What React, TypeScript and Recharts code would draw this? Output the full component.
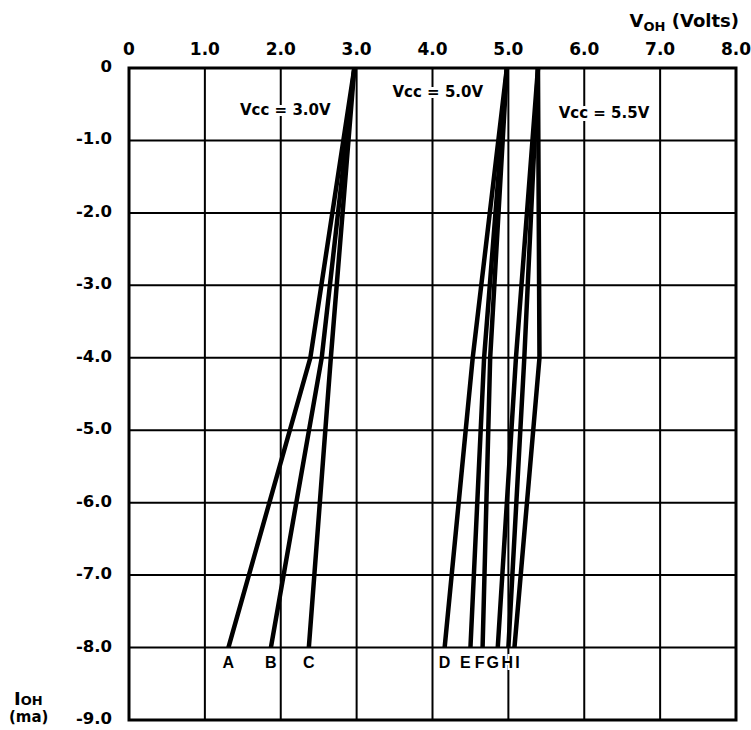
import { LineChart, Line, XAxis, YAxis, CartesianGrid, ReferenceArea, ReferenceDot } from 'recharts'

// output current steps (mA) at which each curve was read
const currentSteps = [0, -4.0, -8.0]

// V_OH (volts) read at each current step, one array per curve
const voltsA = [2.97, 2.39, 1.31]
const voltsB = [2.97, 2.54, 1.87]
const voltsC = [2.97, 2.66, 2.37]
const voltsD = [4.98, 4.53, 4.16]
const voltsE = [4.98, 4.68, 4.5]
const voltsF = [4.98, 4.76, 4.66]
const voltsG = [5.39, 5.1, 4.86]
const voltsH = [5.39, 5.21, 5.0]
const voltsI = [5.39, 5.41, 5.08]

const curveLetters = ['A', 'B', 'C', 'D', 'E', 'F', 'G', 'H', 'I']
const curveVolts = [voltsA, voltsB, voltsC, voltsD, voltsE, voltsF, voltsG, voltsH, voltsI]

const voltTicks = [0, 1, 2, 3, 4, 5, 6, 7, 8]
const currentTicks = [0, -1, -2, -3, -4, -5, -6, -7, -8, -9]

const vccNames = ['Vcc = 3.0V', 'Vcc = 5.0V', 'Vcc = 5.5V']

// where the supply labels sit, in chart units
const vccSpots = [
  { v: 2.06, i: -0.58 },
  { v: 4.07, i: -0.33 },
  { v: 6.26, i: -0.62 },
]

// small horizontal nudges for the crowded letters at the bottom
const letterNudge: Record<string, number> = { E: -5, F: -3, G: -5, H: -1, I: 3 }

const curves = curveLetters.map((letter, k) => ({
  letter,
  points: currentSteps.map((ioh, j) => ({ voh: curveVolts[k][j], ioh })),
}))

const FONT = '"DejaVu Sans", sans-serif'

const fmt = (v: number) => (v === 0 ? '0' : v.toFixed(1))

function VoltTick({ x, payload }: any) {
  return (
    <text x={x} y={55} textAnchor="middle" fontFamily={FONT} fontWeight="bold" fontSize={17} fill="#000">
      {fmt(payload.value)}
    </text>
  )
}

function CurrentTick({ y, payload }: any) {
  return (
    <text x={112} y={y + 4} textAnchor="end" fontFamily={FONT} fontWeight="bold" fontSize={16.5} fill="#000">
      {fmt(payload.value)}
    </text>
  )
}

export default function App() {
  return (
    <div style={{ position: 'absolute', left: 0, top: 0, width: 751, height: 730, background: '#fff' }}>
      <LineChart width={751} height={730} margin={{ top: 0, right: 15, bottom: 10, left: 0 }}>
        <CartesianGrid stroke="#000" strokeWidth={2} />
        <XAxis
          type="number"
          dataKey="voh"
          orientation="top"
          domain={[0, 8]}
          ticks={voltTicks}
          height={68}
          axisLine={false}
          tickLine={false}
          tick={<VoltTick />}
        />
        <YAxis
          type="number"
          domain={[-9, 0]}
          ticks={currentTicks}
          width={129}
          axisLine={false}
          tickLine={false}
          tick={<CurrentTick />}
        />
        <ReferenceArea x1={0} x2={8} y1={-9} y2={0} fill="none" fillOpacity={0} stroke="#000" strokeWidth={3} />
        {vccNames.map((name, k) => (
          <ReferenceDot
            key={name}
            x={vccSpots[k].v}
            y={vccSpots[k].i}
            r={0}
            shape={(p: any) => (
              <text
                x={p.cx}
                y={p.cy + 5}
                textAnchor="middle"
                fontFamily={FONT}
                fontWeight="bold"
                fontSize={15}
                fill="#000"
                stroke="#fff"
                strokeWidth={6}
                paintOrder="stroke"
              >
                {name}
              </text>
            )}
          />
        ))}
        {curves.map((c) => (
          <Line
            key={c.letter}
            data={c.points}
            dataKey="ioh"
            type="linear"
            stroke="#000"
            strokeWidth={4.5}
            dot={false}
            isAnimationActive={false}
            label={(p: any) =>
              p.index === c.points.length - 1 ? (
                <text
                  key={c.letter}
                  x={p.x + (letterNudge[c.letter] ?? 0)}
                  y={p.y + 20}
                  textAnchor="middle"
                  fontFamily='"Liberation Sans", sans-serif'
                  fontWeight="bold"
                  fontSize={16}
                  fill="#000"
                  stroke="#fff"
                  strokeWidth={4}
                  paintOrder="stroke"
                >
                  {c.letter}
                </text>
              ) : (
                <g key={c.letter + p.index} />
              )
            }
          />
        ))}
      </LineChart>
      <div
        style={{
          position: 'absolute',
          right: 12,
          top: 12,
          fontFamily: FONT,
          fontWeight: 'bold',
          fontSize: 18,
          lineHeight: 1,
          whiteSpace: 'nowrap',
        }}
      >
        V<span style={{ fontSize: 13, position: 'relative', top: 4 }}>OH</span> (Volts)
      </div>
      <div
        style={{
          position: 'absolute',
          left: 14,
          top: 690,
          fontFamily: FONT,
          fontWeight: 'bold',
          fontSize: 18,
          lineHeight: 1,
          whiteSpace: 'nowrap',
        }}
      >
        I<span style={{ fontSize: 13 }}>OH</span>
      </div>
      <div
        style={{
          position: 'absolute',
          left: 9,
          top: 710,
          fontFamily: FONT,
          fontWeight: 'bold',
          fontSize: 15,
          lineHeight: 1,
          whiteSpace: 'nowrap',
        }}
      >
        (ma)
      </div>
    </div>
  )
}
